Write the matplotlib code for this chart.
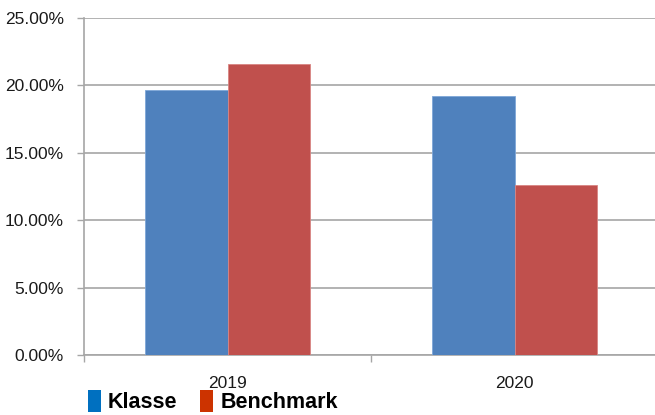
import numpy as np
import matplotlib
matplotlib.use('Agg')
import matplotlib.pyplot as plt
from matplotlib.patches import Patch
from matplotlib.ticker import FuncFormatter, MultipleLocator

years = ['2019', '2020']
klasse = [19.65, 19.2]
benchmark = [21.6, 12.6]
series_names = ['Klasse', 'Benchmark']

bar_color = ['#4F81BD', '#C0504D']
legend_color = ['#0070C0', '#CC3300']
grid_color = '#A6A6A6'

plt.rcParams['font.family'] = ['Liberation Sans', 'DejaVu Sans']

fig = plt.figure(figsize=(6.55, 4.15), dpi=100)
ax = fig.add_axes([84 / 655, 1 - 355 / 415, 574 / 655, 337 / 415])

x = np.arange(len(years))
w = 0.287
ax.bar(x - w / 2, klasse, w, color=bar_color[0], edgecolor='#7EA6D8', linewidth=0.6, zorder=3)
ax.bar(x + w / 2, benchmark, w, color=bar_color[1], edgecolor='#D88583', linewidth=0.6, zorder=3)

ax.set_xlim(-0.5, 1.5)
ax.set_ylim(0, 25)
ax.yaxis.set_major_locator(MultipleLocator(5))
ax.yaxis.set_major_formatter(FuncFormatter(lambda v, p: '%.2f%%' % v))
ax.grid(axis='y', color=grid_color, linewidth=1.2, zorder=0)

ax.set_xticks([-0.5, 0.5, 1.5])
ax.set_xticklabels([])
ax.set_xticks(x, minor=True)
ax.set_xticklabels(years, minor=True)
ax.tick_params(axis='x', which='major', length=5, color=grid_color, width=1)
ax.tick_params(axis='x', which='minor', length=0, labelsize=12.5, colors='#1a1a1a', pad=15)
ax.tick_params(axis='y', length=5, color=grid_color, width=1, labelsize=12.5, pad=9.4,
               labelcolor='#1a1a1a')

for s in ['top', 'right']:
    ax.spines[s].set_visible(False)
for s in ['left', 'bottom']:
    ax.spines[s].set_color(grid_color)
    ax.spines[s].set_linewidth(1.2)

handles = [Patch(facecolor=legend_color[i], label=series_names[i]) for i in range(2)]
fig.legend(handles=handles, loc='lower left', bbox_to_anchor=(79 / 655, -0.017), ncol=2,
           frameon=False, prop={'weight': 'bold', 'size': 15.5},
           handlelength=0.6, handleheight=1.2, handletextpad=0.35, columnspacing=1.05,
           borderaxespad=0)

fig.savefig('out.png', dpi=100)
